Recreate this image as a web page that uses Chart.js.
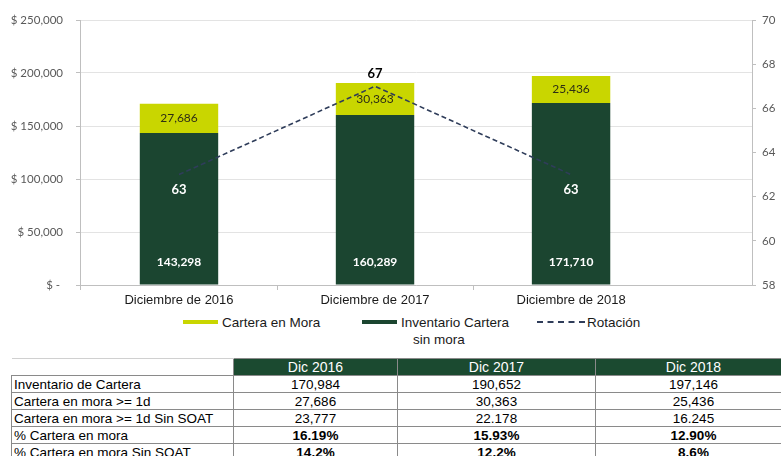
<!DOCTYPE html>
<html>
<head>
<meta charset="utf-8">
<script src="https://cdn.jsdelivr.net/npm/chart.js@4/dist/chart.umd.min.js"></script>
<style>
  html, body { margin: 0; padding: 0; background: #fff; }
  body { width: 781px; height: 456px; overflow: hidden; position: relative; font-family: "Liberation Sans", Arial, sans-serif; }
  #chart { position: absolute; left: 0; top: 0; }
  .leg { position: absolute; top: 314px; font-size: 13.5px; color: #1a1a1a; line-height: 17px; }
  .leg .mk { display: inline-block; width: 35px; height: 4px; vertical-align: middle; margin-right: 4px; margin-top: -2px; }
  .leg .dash { display: inline-block; width: 48px; border-top: 2px dashed #2f3d5a; vertical-align: middle; margin-right: 2px; margin-top: -2px; }
  table { position: absolute; left: 11px; top: 358px; width: 780px; border-collapse: collapse; table-layout: fixed; font-size: 13.5px; }
  td, th { border: 1px solid #8a8a8a; height: 16px; padding: 0 2px; line-height: 15px; white-space: nowrap; overflow: hidden; }
  th { background: #1b4a30; color: #fff; font-weight: normal; text-align: center; height: 16px; font-size: 14px; }
  th.blank { background: #fff; border: none; border-top: 1px solid #d0d0d0; }
  td { text-align: center; }
  td.lbl { text-align: left; }
  tr.b td:not(.lbl) { font-weight: bold; }
</style>
</head>
<body>
<canvas id="chart" width="781" height="310"></canvas>

<div class="leg" style="left:183px"><span class="mk" style="background:#c9d600"></span>Cartera en Mora</div>
<div class="leg" style="left:362px"><span class="mk" style="background:#1b4530"></span>Inventario Cartera<br><span style="padding-left:51px">sin mora</span></div>
<div class="leg" style="left:537px"><span class="dash"></span>Rotación</div>

<table id="tbl"></table>

<script>
const categories = ['Diciembre de 2016', 'Diciembre de 2017', 'Diciembre de 2018']
const sinMora = [143298, 160289, 171710]
const enMora = [27686, 30363, 25436]
const rotacion = [63, 67, 63]

const tableHead = ['Dic 2016', 'Dic 2017', 'Dic 2018']
const tableRows = ['Inventario de Cartera', 'Cartera en mora >= 1d', 'Cartera en mora >= 1d Sin SOAT', '% Cartera en mora', '% Cartera en mora Sin SOAT']
const inventario = ['170,984', '190,652', '197,146']
const mora1d = ['27,686', '30,363', '25,436']
const mora1dSinSoat = ['23,777', '22.178', '16.245']
const pctMora = ['16.19%', '15.93%', '12.90%']
const pctMoraSinSoat = ['14.2%', '12.2%', '8.6%']

const LIME = '#c9d600'
const GREEN = '#1b4530'
const fmt = v => v.toLocaleString('en-US')

// table under the chart
const tbl = document.getElementById('tbl')
const colW = [222, 164, 198, 196]
tbl.innerHTML = '<colgroup>' + colW.map(w => '<col style="width:' + w + 'px">').join('') + '</colgroup>' +
  '<tr><th class="blank"></th>' + tableHead.map(h => '<th>' + h + '</th>').join('') + '</tr>' +
  [inventario, mora1d, mora1dSinSoat, pctMora, pctMoraSinSoat].map((vals, r) =>
    '<tr' + (r >= 3 ? ' class="b"' : '') + '><td class="lbl">' + tableRows[r] + '</td>' +
    vals.map(v => '<td>' + v + '</td>').join('') + '</tr>').join('')

const valueLabels = {
  id: 'valueLabels',
  afterDatasetsDraw(chart) {
    const ctx = chart.ctx
    const line = chart.getDatasetMeta(0), green = chart.getDatasetMeta(1), lime = chart.getDatasetMeta(2)
    ctx.save()
    ctx.textAlign = 'center'
    ctx.textBaseline = 'middle'
    green.data.forEach((bar, i) => {
      ctx.font = 'bold 12px Lato'
      ctx.fillStyle = '#fff'
      ctx.fillText(fmt(sinMora[i]), bar.x, bar.base - 22)
    })
    lime.data.forEach((bar, i) => {
      ctx.font = '12px Lato'
      ctx.fillStyle = '#2e2e14'
      ctx.fillText(fmt(enMora[i]), bar.x, (bar.y + bar.base) / 2)
    })
    const top = Math.max(...rotacion)
    line.data.forEach((pt, i) => {
      const hi = rotacion[i] === top
      ctx.font = 'bold 13px Lato'
      ctx.fillStyle = hi ? '#000' : '#fff'
      ctx.fillText(rotacion[i], pt.x, hi ? pt.y - 12 : pt.y + 15)
    })
    ctx.restore()
  }
}

new Chart(document.getElementById('chart'), {
  type: 'bar',
  data: {
    datasets: [
      {
        type: 'line', label: 'Rotación', yAxisID: 'y1', order: 0,
        data: rotacion.map((v, i) => ({ x: i, y: v })),
        borderColor: '#2f3d5a', borderWidth: 1.6, borderDash: [5, 3], pointRadius: 0, fill: false, tension: 0
      },
      {
        label: 'Inventario Cartera sin mora', order: 1, yAxisID: 'y',
        data: sinMora.map((v, i) => ({ x: i, y: v })),
        backgroundColor: GREEN, barPercentage: 0.8, categoryPercentage: 1
      },
      {
        label: 'Cartera en Mora', order: 2, yAxisID: 'y',
        data: enMora.map((v, i) => ({ x: i, y: v })),
        backgroundColor: LIME, barPercentage: 0.8, categoryPercentage: 1
      }
    ]
  },
  options: {
    responsive: false,
    maintainAspectRatio: false,
    devicePixelRatio: 1,
    animation: false,
    layout: { padding: { top: 20, left: 0, right: 0, bottom: 0 } },
    plugins: { legend: { display: false }, tooltip: { enabled: false } },
    scales: {
      x: {
        type: 'linear', stacked: true, offset: false, min: -0.505, max: 2.923,
        afterBuildTicks: s => { s.ticks = [-0.5, 0, 0.5, 1, 1.5, 2].map(v => ({ value: v })) },
        afterFit: s => { s.height = 25 },
        grid: {
          drawOnChartArea: false, drawTicks: true, tickLength: 5, offset: false,
          tickColor: c => Number.isInteger(c.tick && c.tick.value) ? 'rgba(0,0,0,0)' : '#bfbfbf'
        },
        border: { display: true, color: '#bfbfbf' },
        ticks: {
          autoSkip: false, maxRotation: 0, padding: 3, color: '#1a1a1a',
          font: { family: 'Liberation Sans', size: 13 },
          callback: v => Number.isInteger(v) ? categories[v] : ''
        }
      },
      y: {
        position: 'left', stacked: true, min: 0, max: 250000,
        afterFit: s => { s.width = 80 },
        grid: { color: '#e3e3e3', tickColor: '#bfbfbf', tickLength: 4 },
        border: { display: true, color: '#bfbfbf' },
        ticks: {
          stepSize: 50000, padding: 13, color: '#595959',
          font: { family: 'Lato', size: 11.5 },
          callback: v => v === 0 ? '$ - ' : '$ ' + fmt(v)
        }
      },
      y1: {
        position: 'right', min: 58, max: 70,
        afterFit: s => { s.width = 29 },
        grid: { drawOnChartArea: false, tickColor: '#bfbfbf', tickLength: 4 },
        border: { display: true, color: '#bfbfbf' },
        ticks: { stepSize: 2, padding: 6, color: '#595959', font: { family: 'Lato', size: 11.5 } }
      }
    }
  },
  plugins: [valueLabels]
})
</script>
</body>
</html>
